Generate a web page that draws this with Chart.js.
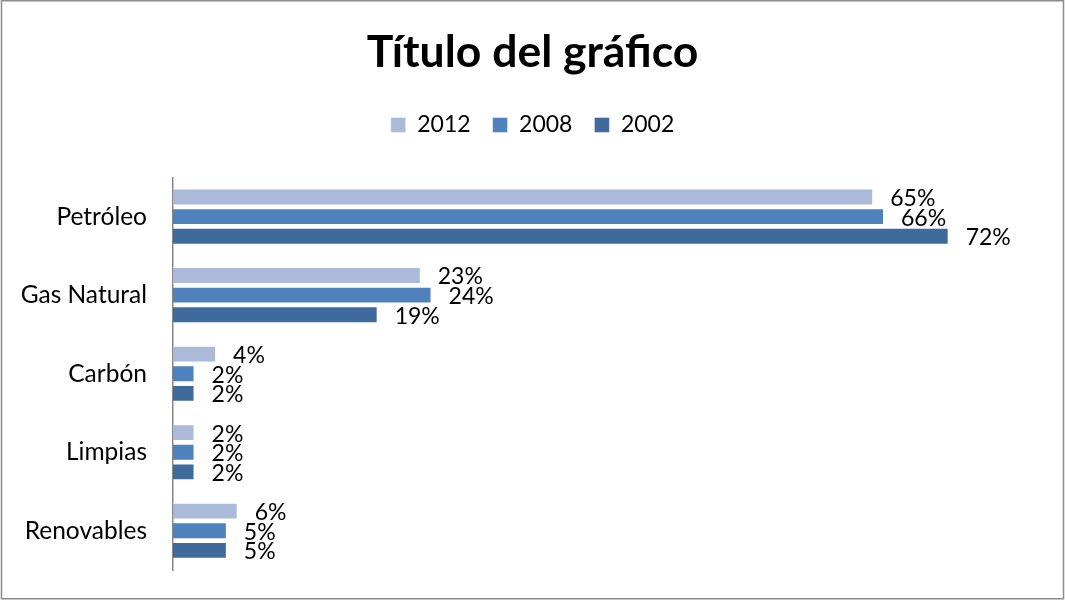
<!DOCTYPE html>
<html>
<head>
<meta charset="utf-8">
<script src="https://cdn.jsdelivr.net/npm/chart.js@4.4.1/dist/chart.umd.min.js"></script>
<style>
  html, body { margin: 0; padding: 0; background: #fff; }
  #wrap { width: 1065px; height: 600px; position: relative; }
</style>
</head>
<body>
<div id="wrap"><canvas id="c" width="1065" height="600"></canvas></div>
<script>
const categories = ['Petróleo', 'Gas Natural', 'Carbón', 'Limpias', 'Renovables'];
const seriesNames = ['2012', '2008', '2002'];
const values2012 = [65, 23, 4, 2, 6];
const values2008 = [66, 24, 2, 2, 5];
const values2002 = [72, 19, 2, 2, 5];
const seriesColors = ['#AABAD8', '#4F81BD', '#3F6A9C'];

const FONT = "Lato, 'Open Sans', sans-serif";

const frame = {
  id: 'frame',
  beforeDraw(chart) {
    const ctx = chart.ctx;
    ctx.save();
    ctx.fillStyle = '#fff';
    ctx.fillRect(0, 0, chart.width, chart.height);
    ctx.strokeStyle = '#8c8c8c';
    ctx.lineWidth = 1.5;
    ctx.strokeRect(1.5, 0.75, chart.width - 3, chart.height - 2);
    ctx.restore();
  }
};

const valueLabels = {
  id: 'valueLabels',
  afterDatasetsDraw(chart) {
    const ctx = chart.ctx;
    ctx.save();
    ctx.font = '23px ' + FONT;
    ctx.fillStyle = '#000';
    ctx.textAlign = 'left';
    ctx.textBaseline = 'middle';
    chart.data.datasets.forEach((ds, i) => {
      const meta = chart.getDatasetMeta(i);
      meta.data.forEach((bar, j) => {
        ctx.fillText(ds.data[j] + '%', bar.x + 17, bar.y + 1.5);
      });
    });
    ctx.restore();
  }
};

new Chart(document.getElementById('c'), {
  type: 'bar',
  data: {
    labels: categories,
    datasets: [
      { label: seriesNames[0], data: values2012, backgroundColor: seriesColors[0] },
      { label: seriesNames[1], data: values2008, backgroundColor: seriesColors[1] },
      { label: seriesNames[2], data: values2002, backgroundColor: seriesColors[2] }
    ]
  },
  options: {
    indexAxis: 'y',
    responsive: false,
    animation: false,
    devicePixelRatio: 1,
    layout: { padding: { left: 0, right: 0, top: 0, bottom: 30 } },
    datasets: {
      bar: {
        categoryPercentage: 0.75,
        barPercentage: 0.86,
        borderWidth: 1,
        borderColor: 'rgba(255,255,255,0.45)'
      }
    },
    scales: {
      x: {
        display: true,
        position: 'top',
        min: 0,
        max: 82.8,
        grid: { display: false, drawTicks: false },
        border: { display: false },
        ticks: { display: false },
        afterFit(scale) { scale.height = 31; }
      },
      y: {
        grid: { display: false, drawTicks: true, tickLength: 26 },
        border: { display: true, color: '#868686', width: 1.5 },
        ticks: { padding: 0, color: '#000', font: { family: FONT, size: 24.5 } },
        afterFit(scale) { scale.width = 173; }
      }
    },
    plugins: {
      title: {
        display: true,
        text: 'Título del gráfico',
        color: '#000',
        font: { family: FONT, size: 44.5, weight: 'bold' },
        padding: { top: 26, bottom: 12 }
      },
      legend: {
        display: true,
        position: 'top',
        labels: {
          color: '#000',
          font: { family: FONT, size: 23 },
          boxWidth: 15,
          boxHeight: 15,
          padding: 22
        }
      },
      tooltip: { enabled: false }
    }
  },
  plugins: [frame, valueLabels]
});
</script>
</body>
</html>
